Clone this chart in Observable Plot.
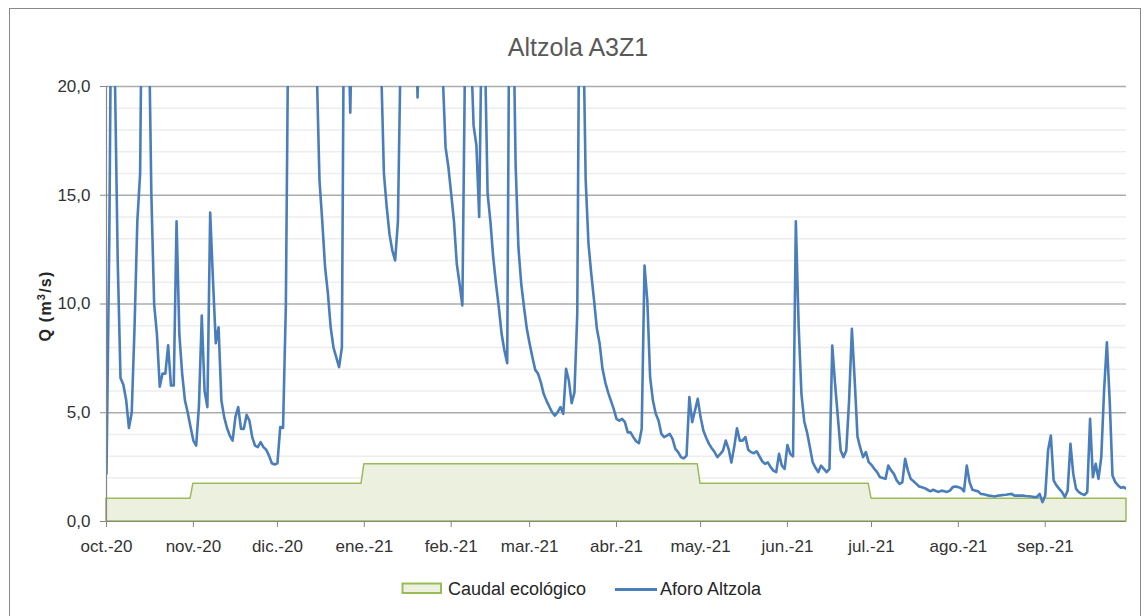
<!DOCTYPE html>
<html>
<head>
<meta charset="utf-8">
<script src="https://cdn.jsdelivr.net/npm/d3@7"></script>
<script src="https://cdn.jsdelivr.net/npm/@observablehq/plot@0.6"></script>
<style>
html, body { margin: 0; padding: 0; background: #fff; overflow: hidden; }
#wrap { position: relative; width: 1144px; height: 616px; font-family: "Liberation Sans", Arial, sans-serif; }
#wrap > svg { position: absolute; left: 0; top: 0; }
</style>
</head>
<body>
<div id="wrap"></div>
<script>
// ---- data ----
const chartTitle = "Altzola A3Z1";
const yLabelParts = ["Q (m", "3", "/s)"];
const seriesNames = ["Caudal ecológico", "Aforo Altzola"];
const startDay = "2020-10-01";
const endDay = "2021-09-30";
const monthLabels = ["oct.-20","nov.-20","dic.-20","ene.-21","feb.-21","mar.-21","abr.-21","may.-21","jun.-21","jul.-21","ago.-21","sep.-21"];
const yTicks = [0, 5, 10, 15, 20];
// Caudal ecológico, one value per month (oct.-20 ... sep.-21)
const ecoValues = [1.05, 1.73, 1.73, 2.63, 2.63, 2.63, 2.63, 1.73, 1.73, 1.05, 1.05, 1.05];
// Aforo Altzola, daily flow (m3/s) from 2020-10-01 to 2021-09-30 (values > 20 are off the chart)
const flow = [
  2.2, 13, 30, 20.5, 12, 6.6, 6.3, 5.6, 4.3, 5.0, 8.9, 13.8, 16.0, 30, 32, 24, 15.1, 10.0, 8.6, 6.2,
  6.8, 6.8, 8.1, 6.25, 6.25, 13.8, 8.6, 6.8, 5.56, 5.0, 4.34,
  3.72, 3.49, 5.33, 9.47, 6.0, 5.26, 14.2, 11.1, 8.2, 8.93, 5.56, 4.8, 4.3, 3.95, 3.72, 4.8, 5.26, 4.26, 4.26, 4.9,
  4.64, 3.88, 3.49, 3.42, 3.65, 3.42, 3.3, 3.03, 2.68, 2.62,
  2.68, 4.34, 4.3, 9.9, 25, 30, 35, 40, 38, 33, 30, 28, 26, 23, 21, 15.7, 13.8, 11.7, 10.5, 8.93,
  8.0, 7.55, 7.1, 8.0, 30, 24, 18.8, 26, 32, 36, 30,
  28, 27, 30, 27, 25, 23, 21, 16.0, 14.45, 13.2, 12.46, 12.0, 13.8, 22, 28, 32, 35, 30, 26, 19.5,
  24, 30, 34, 30, 27, 25, 24, 22, 20.5, 17.2, 16.3,
  15.07, 13.8, 11.85, 10.93, 9.93, 22, 30, 22, 18.2, 17.3, 14.0, 24, 22, 15.07, 13.8, 12.15, 10.93, 9.85, 8.63, 7.86,
  7.28, 30, 25, 16.4, 12.6, 10.93, 9.85, 8.86,
  8.17, 7.55, 6.97, 6.8, 6.4, 5.87, 5.56, 5.29, 5.03, 4.87, 5.03, 5.26, 4.95, 7.02, 6.48, 5.44, 5.94, 9.55, 30, 24,
  15.7, 12.77, 11.39, 10.16, 8.86, 8.17, 7.02, 6.4, 5.94, 5.56, 5.18,
  4.72, 4.64, 4.72, 4.57, 4.1, 4.1, 3.88, 3.69, 3.6, 4.26, 11.77, 10.16, 6.63, 5.56, 4.95, 4.64, 4.03, 3.88, 3.95, 4.03,
  3.8, 3.34, 3.19, 2.96, 2.9, 3.03, 5.72, 4.57, 5.1, 5.64,
  4.8, 4.18, 3.85, 3.57, 3.37, 3.19, 2.96, 3.1, 3.26, 3.72, 3.34, 2.71, 3.42, 4.29, 3.72, 3.72, 3.88, 3.3, 3.19, 3.14,
  3.23, 3.0, 2.77, 2.65, 2.72, 2.5, 2.34, 2.27, 3.11, 2.57, 2.42,
  3.52, 3.11, 2.99, 13.8, 9.0, 5.87, 4.6, 4.1, 3.42, 2.73, 2.47, 2.27, 2.57, 2.42, 2.27, 2.42, 8.09, 6.33, 4.8, 3.26,
  2.96, 3.26, 5.56, 8.86, 6.5, 3.9, 3.38, 2.96, 3.19, 2.73,
  2.6, 2.42, 2.27, 2.04, 2.0, 1.96, 2.57, 2.35, 2.19, 1.89, 1.73, 1.8, 2.88, 2.34, 1.96, 1.85, 1.73, 1.61, 1.57, 1.53,
  1.46, 1.39, 1.46, 1.4, 1.36, 1.42, 1.39, 1.36, 1.42, 1.58, 1.61,
  1.58, 1.53, 1.39, 2.57, 1.81, 1.46, 1.42, 1.39, 1.27, 1.25, 1.22, 1.19, 1.17, 1.15, 1.19, 1.2, 1.22, 1.23, 1.25, 1.27,
  1.19, 1.19, 1.19, 1.19, 1.17, 1.16, 1.15, 1.13, 1.12, 1.27, 0.89,
  1.19, 3.26, 3.95, 1.89, 1.66, 1.5, 1.35, 1.12, 1.42, 3.57, 2.19, 1.5, 1.35, 1.27, 1.22, 1.35, 4.72, 2.04, 2.65, 1.96,
  2.96, 6.02, 8.24, 5.56, 2.11, 1.81, 1.66, 1.55, 1.58, 1.5
];

// ---- derived tables ----
const parse = d3.utcParse("%Y-%m-%d");
const start = parse(startDay);
const end = parse(endDay);
const flowData = flow.map((q, i) => ({date: d3.utcDay.offset(start, i), q}));
const monthStarts = d3.utcMonth.range(start, d3.utcDay.offset(end, 1));
const ecoData = [];
monthStarts.forEach((m, i) => {
  const last = d3.utcDay.offset(d3.utcMonth.offset(m, 1), -1);
  ecoData.push({date: m, q: ecoValues[i]}, {date: last > end ? end : last, q: ecoValues[i]});
});
const minorTicks = d3.range(1, 20).filter(v => v % 5 !== 0);
const labelOf = new Map(monthStarts.map((m, i) => [+m, monthLabels[i]]));

const FONT = '"Liberation Sans", Arial, sans-serif';
const BLUE = "#4A7EBB", GREEN = "#9BBB59", GREEN_FILL = "#EBF1DE", AXIS = "#868686";

const chart = Plot.plot({
  width: 1144,
  height: 616,
  marginLeft: 106,
  marginRight: 18,
  marginTop: 86,
  marginBottom: 95,
  x: {type: "utc", domain: [start, end]},
  y: {domain: [0, 20]},
  style: {fontFamily: FONT, fontSize: "17px", color: "#333", background: "transparent", overflow: "visible"},
  marks: [
    Plot.ruleY(minorTicks, {stroke: "#EDEDED", strokeWidth: 1.5}),
    Plot.ruleY([5, 10, 15, 20], {stroke: "#ABABAB", strokeWidth: 1.3}),
    Plot.areaY(ecoData, {x: "date", y: "q", fill: GREEN_FILL, stroke: GREEN, strokeWidth: 1.5}),
    Plot.line(flowData, {x: "date", y: "q", stroke: BLUE, strokeWidth: 2.6, clip: true}),
    Plot.ruleX([start], {stroke: AXIS, strokeWidth: 1.2}),
    Plot.ruleY([0], {stroke: AXIS, strokeWidth: 1.2}),
    Plot.axisY({ticks: yTicks, tickFormat: d => d.toFixed(1).replace(".", ","), tickSize: 6, tickPadding: 10, stroke: AXIS, label: null, fontSize: 17}),
    Plot.axisX({ticks: monthStarts, tickFormat: d => labelOf.get(+d), tickSize: 6, tickPadding: 12, stroke: AXIS, label: null, fontSize: 17})
  ]
});

const wrap = document.getElementById("wrap");
wrap.appendChild(chart);

// ---- overlay: frame, title, y label, legend ----
const ov = d3.create("svg").attr("width", 1144).attr("height", 616)
  .style("font-family", FONT).style("pointer-events", "none");
ov.append("rect").attr("x", 9.5).attr("y", 8.5).attr("width", 1131).attr("height", 700)
  .attr("fill", "none").attr("stroke", "#898989").attr("stroke-width", 1);
ov.append("text").attr("x", 578).attr("y", 55.5).attr("text-anchor", "middle")
  .attr("font-size", 25).attr("fill", "#595959").text(chartTitle);
const yl = ov.append("text").attr("transform", "translate(50.5,306) rotate(-90)").attr("text-anchor", "middle")
  .attr("font-size", 16).attr("font-weight", "bold").attr("fill", "#262626")
  .style("letter-spacing", "1.2px");
yl.append("tspan").text(yLabelParts[0]);
yl.append("tspan").attr("font-size", 11).attr("dy", -6).text(yLabelParts[1]);
yl.append("tspan").attr("dy", 6).text(yLabelParts[2]);
const lg = ov.append("g");
lg.append("rect").attr("x", 402.5).attr("y", 583.5).attr("width", 38.5).attr("height", 9.5)
  .attr("fill", GREEN_FILL).attr("stroke", GREEN).attr("stroke-width", 2);
lg.append("text").attr("x", 448).attr("y", 595).attr("font-size", 18).attr("fill", "#262626").text(seriesNames[0]);
lg.append("line").attr("x1", 615).attr("x2", 657).attr("y1", 589.5).attr("y2", 589.5)
  .attr("stroke", BLUE).attr("stroke-width", 3);
lg.append("text").attr("x", 660).attr("y", 595).attr("font-size", 18).attr("fill", "#262626").text(seriesNames[1]);
wrap.appendChild(ov.node());
</script>
</body>
</html>
